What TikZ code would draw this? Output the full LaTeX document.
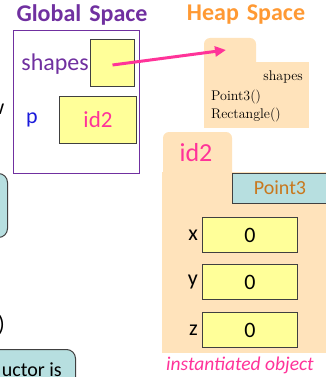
\documentclass[tikz,border=0pt]{standalone}
\usepackage{fontspec}
\setsansfont{Carlito}
\usetikzlibrary{arrows.meta}

\definecolor{globalpurple}{HTML}{7030A0}
\definecolor{heaporange}{HTML}{FF9933}
\definecolor{refpink}{HTML}{FF3399}
\definecolor{heappeach}{HTML}{FFE3BB}
\definecolor{cellyellow}{HTML}{FFFF99}
\definecolor{classcyan}{HTML}{B7DFE0}
\definecolor{classtext}{HTML}{C8781E}
\definecolor{varblue}{HTML}{1A1ADB}
\definecolor{boxedge}{HTML}{404040}

\tikzset{
  sans/.style={font=\sffamily\fontsize{#1}{#1}\selectfont},
  cell/.style={draw=boxedge, fill=cellyellow, line width=1pt, inner sep=0pt, sans=22},
  title/.style={sans=22, inner sep=0pt},
  header/.style={font=\sffamily\bfseries\fontsize{24}{24}\selectfont, inner sep=0pt},
  heaptext/.style={font=\fontsize{14}{16}\selectfont, inner sep=0pt},
  callout/.style={draw=boxedge, fill=classcyan, line width=1pt, rounded corners=9pt, inner sep=0pt}
}

\begin{document}
\begin{tikzpicture}[x=1pt, y=-1pt]
  \useasboundingbox (0,0) rectangle (325,377);

  % bits of the slide that run off the left edge
  \node[title, anchor=east, text=black] (wfrag) at (4.5,109) {w};
  \node[callout, anchor=north east, minimum width=60, minimum height=64] (leftnote) at (8,173) {};
  \node[title, anchor=east, text=black] (parfrag) at (5,325) {)};
  \node[callout, anchor=north east, minimum width=150, minimum height=50] (ctornote) at (76,349) {};
  \node[sans=20, anchor=base east, inner sep=0pt] (ctortext) at (62,376) {uctor is};

  % global space
  \node[header, text=globalpurple] (globaltitle) at (82,15) {Global\,\,Space};
  \node[draw=globalpurple, line width=1pt, minimum width=126, minimum height=143, anchor=north west, inner sep=0pt] (globalbox) at (13,30) {};
  \node[cell, minimum width=44, minimum height=47, anchor=north west] (shapescell) at (90,39) {};
  \node[sans=24, inner sep=0pt, text=globalpurple, anchor=east] (shapesname) at (89,64) {shapes};
  \node[cell, sans=23, minimum width=77, minimum height=47, anchor=north west, text=refpink] (pcell) at (59,96) {id2};
  \node[title, text=varblue] (pname) at (32,120) {p};

  % heap space
  \node[header, text=heaporange] (heaptitle) at (246,15) {Heap\,\,Space};

  % module folder
  \fill[heappeach, rounded corners=6pt] (204,70) rectangle (256,38);
  \fill[heappeach] (204,62) rectangle (309,128);
  \node[heaptext, anchor=base east] (modname) at (303,81) {shapes};
  \node[heaptext, anchor=base west] (modpoint) at (211,100) {Point3()};
  \node[heaptext, anchor=base west] (modrect) at (211,118) {Rectangle()};
  \coordinate (modtip) at (226,50);

  % object folder
  \fill[heappeach, rounded corners=6pt] (163,185) rectangle (232,132);
  \fill[heappeach] (162,172) rectangle (330,353);
  \node[sans=26, text=refpink, inner sep=0pt] (objid) at (196,153) {id2};
  \node[draw=boxedge, fill=classcyan, line width=1pt, anchor=north west, minimum width=100, minimum height=30, inner sep=0pt] (classbox) at (232,173) {};
  \node[sans=20, text=classtext, inner sep=0pt] (classname) at (280,188) {Point3};

  \node[cell, minimum width=95, minimum height=35, anchor=north west] (xcell) at (202,217) {0};
  \node[cell, minimum width=95, minimum height=35, anchor=north west] (ycell) at (202,264) {0};
  \node[cell, minimum width=95, minimum height=35, anchor=north west] (zcell) at (202,312) {0};
  \node[title, anchor=east] (xname) at ([xshift=-4pt]xcell.west) {x};
  \node[title, anchor=east] (yname) at ([xshift=-4pt]ycell.west) {y};
  \node[title, anchor=east] (zname) at ([xshift=-4pt]zcell.west) {z};

  \node[font=\sffamily\itshape\fontsize{19.5}{19.5}\selectfont, text=refpink, inner sep=0pt] (objnote) at (240,365) {instantiated object};

  % reference from shapes to its module
  \draw[refpink, line width=3pt, -{Triangle[length=11pt,width=10pt]}] ([yshift=-2pt]shapescell.center) -- (modtip);
\end{tikzpicture}
\end{document}
